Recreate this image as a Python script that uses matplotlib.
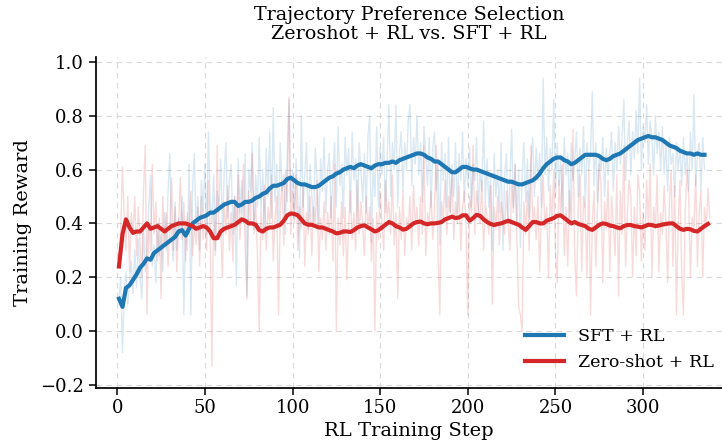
import numpy as np
import matplotlib
matplotlib.use("Agg")
import matplotlib.pyplot as plt

plt.rcParams['font.family'] = ['DejaVu Serif']

title = "Trajectory Preference Selection\nZeroshot + RL vs. SFT + RL"
xlabel = "RL Training Step"
ylabel = "Training Reward"
label_sft = "SFT + RL"
label_zs = "Zero-shot + RL"

# Raw per-step rewards (faint lines), SFT + RL, steps 1..335
sft_raw = [
    0.12, 0.20, -0.08, 0.15, 0.22, 0.10, 0.18, 0.26, 0.14, 0.30,
    0.16, 0.34, 0.20, 0.12, 0.38, 0.22, 0.30, 0.46, 0.58, 0.24,
    0.32, 0.18, 0.40, 0.28, 0.36, 0.22, 0.44, 0.30, 0.52, 0.66,
    0.34, 0.26, 0.48, 0.30, 0.42, 0.36, 0.50, 0.06, 0.40, 0.30,
    0.62, 0.06, 0.54, 0.66, 0.38, 0.50, 0.30, 0.56, 0.44, 0.62,
    0.36, 0.74, 0.48, 0.40, 0.58, 0.30, 0.52, 0.44, 0.64, 0.38,
    0.58, 0.70, 0.42, 0.56, 0.62, 0.36, 0.50, 0.17, 0.64, 0.44,
    0.56, 0.40, 0.66, 0.13, 0.60, 0.52, 0.70, 0.38, 0.58, 0.46,
    0.72, 0.44, 0.60, 0.36, 0.68, 0.50, 0.74, 0.42, 0.83, 0.48,
    0.62, 0.40, 0.70, 0.52, 0.58, 0.36, 0.66, 0.86, 0.48, 0.60,
    0.42, 0.64, 0.50, 0.27, 0.80, 0.46, 0.58, 0.70, 0.38, 0.62,
    0.50, 0.40, 0.68, 0.56, 0.38, 0.64, 0.52, 0.72, 0.44, 0.60,
    0.66, 0.42, 0.58, 0.70, 0.46, 0.76, 0.54, 0.62, 0.42, 0.72,
    0.58, 0.68, 0.44, 0.74, 0.56, 0.64, 0.40, 0.70, 0.60, 0.48,
    0.66, 0.44, 0.72, 0.80, 0.33, 0.62, 0.50, 0.76, 0.46, 0.68,
    0.58, 0.72, 0.44, 0.64, 0.84, 0.50, 0.70, 0.60, 0.84, 0.46,
    0.66, 0.74, 0.52, 0.70, 0.60, 0.78, 0.84, 0.54, 0.72, 0.62,
    0.80, 0.58, 0.70, 0.48, 0.76, 0.66, 0.54, 0.72, 0.46, 0.68,
    0.74, 0.52, 0.64, 0.32, 0.70, 0.56, 0.66, 0.46, 0.72, 0.44,
    0.62, 0.50, 0.70, 0.44, 0.66, 0.56, 0.74, 0.48, 0.64, 0.54,
    0.68, 0.46, 0.62, 0.56, 0.72, 0.42, 0.60, 0.52, 0.78, 0.48,
    0.64, 0.46, 0.58, 0.30, 0.66, 0.50, 0.60, 0.44, 0.70, 0.30,
    0.58, 0.66, 0.42, 0.56, 0.75, 0.46, 0.62, 0.40, 0.60, 0.31,
    0.58, 0.70, 0.48, 0.64, 0.42, 0.62, 0.72, 0.50, 0.68, 0.56,
    0.66, 0.46, 0.94, 0.58, 0.72, 0.52, 0.68, 0.60, 0.86, 0.50,
    0.70, 0.54, 0.64, 0.44, 0.72, 0.58, 0.66, 0.42, 0.70, 0.56,
    0.64, 0.74, 0.50, 0.68, 0.58, 0.76, 0.46, 0.70, 0.60, 0.66,
    0.89, 0.54, 0.70, 0.48, 0.66, 0.60, 0.72, 0.50, 0.68, 0.58,
    0.66, 0.74, 0.52, 0.70, 0.60, 0.76, 0.62, 0.72, 0.86, 0.56,
    0.70, 0.78, 0.58, 0.74, 0.64, 0.82, 0.66, 0.94, 0.60, 0.76,
    0.70, 0.84, 0.62, 0.78, 0.72, 0.58, 0.80, 0.66, 0.74, 0.60,
    0.76, 0.58, 0.70, 0.52, 0.72, 0.62, 0.66, 0.50, 0.70, 0.60,
    0.68, 0.54, 0.72, 0.58, 0.66, 0.52, 0.74, 0.60, 0.88, 0.54,
    0.66, 0.70, 0.52, 0.72, 0.60,
]

# Raw per-step rewards, Zero-shot + RL, steps 1..338
zs_raw = [
    0.24, 0.38, 0.61, 0.42, 0.30, 0.50, 0.22, 0.44, 0.36, 0.50,
    0.28, 0.46, 0.34, 0.20, 0.52, 0.69, 0.06, 0.40, 0.30, 0.62,
    0.36, 0.48, 0.26, 0.42, 0.12, 0.50, 0.32, 0.44, 0.24, 0.38,
    0.57, 0.30, 0.46, 0.22, 0.40, 0.57, 0.34, 0.48, 0.26, 0.44,
    0.36, 0.52, 0.28, 0.40, 0.32, 0.46, 0.24, 0.50, 0.34, 0.42,
    0.30, 0.56, 0.38, -0.13, 0.44, 0.28, 0.69, 0.34, 0.40, 0.20,
    0.48, 0.36, 0.54, 0.30, 0.44, 0.26, 0.50, 0.38, 0.58, 0.34,
    0.46, 0.62, 0.30, 0.12, 0.52, 0.40, 0.66, 0.36, 0.48, 0.28,
    0.00, 0.44, 0.34, 0.54, 0.30, 0.46, 0.40, 0.58, 0.26, 0.42,
    0.50, 0.06, 0.44, 0.56, 0.32, 0.60, 0.48, 0.87, 0.36, 0.52,
    0.40, 0.58, 0.30, 0.46, 0.38, 0.54, 0.24, 0.44, 0.36, 0.50,
    0.28, 0.46, 0.40, 0.56, 0.22, 0.42, 0.34, 0.48, 0.30, 0.44,
    0.36, 0.50, 0.26, 0.62, 0.00, 0.42, 0.32, 0.48, 0.28, 0.46,
    0.19, 0.40, 0.52, 0.34, 0.44, 0.30, 0.56, 0.36, 0.48, 0.40,
    0.28, 0.50, 0.38, 0.46, 0.26, 0.42, 0.00, 0.44, 0.34, 0.52,
    0.40, 0.30, 0.56, 0.42, 0.48, 0.36, 0.58, 0.32, 0.44, 0.12,
    0.46, 0.34, 0.52, 0.28, 0.42, 0.38, 0.50, 0.30, 0.54, 0.40,
    0.46, 0.32, 0.50, 0.36, 0.69, 0.28, 0.44, 0.40, 0.52, 0.34,
    0.46, 0.69, 0.30, 0.06, 0.48, 0.42, 0.56, 0.36, 0.50, 0.44,
    0.58, 0.34, 0.48, 0.40, 0.54, 0.30, 0.46, 0.52, 0.38, 0.06,
    0.50, 0.44, 0.69, 0.36, 0.52, 0.46, 0.40, 0.56, 0.30, 0.48,
    0.42, 0.36, 0.54, 0.10, 0.46, 0.38, 0.50, 0.32, 0.48, 0.42,
    0.36, 0.52, 0.40, 0.30, 0.56, 0.44, 0.62, 0.34, 0.09, 0.06,
    0.00, 0.48, 0.36, 0.52, 0.30, 0.69, 0.40, 0.46, 0.34, 0.50,
    0.22, 0.44, 0.58, 0.38, 0.46, 0.20, 0.54, 0.40, 0.60, 0.30,
    0.18, 0.56, 0.44, 0.62, 0.28, 0.46, 0.24, 0.52, 0.40, 0.75,
    0.28, 0.13, 0.46, 0.58, 0.22, 0.50, 0.44, 0.20, 0.60, 0.06,
    0.40, 0.52, 0.24, 0.46, 0.62, 0.54, 0.18, 0.48, 0.38, 0.56,
    0.22, 0.50, 0.40, 0.28, 0.58, 0.13, 0.52, 0.36, 0.69, 0.24,
    0.44, 0.56, 0.50, 0.20, 0.46, 0.28, 0.58, 0.52, 0.26, 0.44,
    0.30, 0.56, 0.40, 0.62, 0.20, 0.46, 0.38, 0.58, 0.22, 0.44,
    0.36, 0.54, 0.40, 0.18, 0.48, 0.60, 0.24, 0.54, 0.06, 0.40,
    0.56, 0.22, 0.06, 0.44, 0.60, 0.50, 0.20, 0.42, 0.38, 0.58,
    0.24, 0.44, 0.52, 0.20, 0.46, 0.38, 0.53, 0.42,
]

# Smoothed curves (thick lines), read every 2 steps
sft_smooth_steps = list(range(1, 336, 2))
sft_smooth = [
    0.12, 0.09, 0.16, 0.17, 0.19, 0.21, 0.235, 0.25, 0.27, 0.265,
    0.29, 0.30, 0.31, 0.32, 0.33, 0.34, 0.35, 0.37, 0.375, 0.355,
    0.38, 0.40, 0.41, 0.42, 0.425, 0.43, 0.44, 0.44, 0.45, 0.46,
    0.47, 0.475, 0.48, 0.48, 0.465, 0.47, 0.48, 0.48, 0.485, 0.495,
    0.50, 0.51, 0.515, 0.53, 0.54, 0.54, 0.545, 0.55, 0.565, 0.57,
    0.56, 0.55, 0.545, 0.545, 0.54, 0.535, 0.535, 0.54, 0.55, 0.56,
    0.57, 0.575, 0.585, 0.59, 0.60, 0.605, 0.61, 0.605, 0.615, 0.62,
    0.615, 0.61, 0.605, 0.615, 0.62, 0.62, 0.625, 0.625, 0.63, 0.625,
    0.635, 0.64, 0.645, 0.65, 0.655, 0.66, 0.66, 0.655, 0.645, 0.64,
    0.63, 0.63, 0.62, 0.61, 0.60, 0.59, 0.59, 0.60, 0.61, 0.61,
    0.605, 0.60, 0.60, 0.595, 0.59, 0.585, 0.58, 0.575, 0.57, 0.565,
    0.56, 0.555, 0.555, 0.55, 0.545, 0.545, 0.55, 0.555, 0.56, 0.57,
    0.585, 0.605, 0.62, 0.63, 0.64, 0.645, 0.645, 0.635, 0.63, 0.62,
    0.625, 0.635, 0.645, 0.655, 0.655, 0.655, 0.655, 0.65, 0.64, 0.635,
    0.64, 0.65, 0.655, 0.66, 0.67, 0.68, 0.69, 0.70, 0.71, 0.715,
    0.72, 0.725, 0.72, 0.72, 0.715, 0.71, 0.70, 0.69, 0.685, 0.68,
    0.67, 0.665, 0.66, 0.66, 0.655, 0.66, 0.655, 0.655,
]

zs_smooth_steps = list(range(1, 338, 2))
zs_smooth = [
    0.24, 0.36, 0.415, 0.385, 0.365, 0.37, 0.37, 0.385, 0.40, 0.38,
    0.385, 0.39, 0.38, 0.37, 0.38, 0.39, 0.395, 0.40, 0.40, 0.40,
    0.395, 0.39, 0.38, 0.385, 0.39, 0.385, 0.37, 0.345, 0.345, 0.37,
    0.38, 0.385, 0.39, 0.395, 0.405, 0.415, 0.41, 0.40, 0.40, 0.395,
    0.375, 0.37, 0.38, 0.385, 0.385, 0.39, 0.395, 0.41, 0.43, 0.437,
    0.435, 0.43, 0.415, 0.40, 0.395, 0.395, 0.39, 0.385, 0.385, 0.38,
    0.375, 0.37, 0.363, 0.365, 0.37, 0.37, 0.368, 0.375, 0.385, 0.39,
    0.393, 0.385, 0.378, 0.37, 0.375, 0.385, 0.395, 0.405, 0.40, 0.39,
    0.385, 0.377, 0.38, 0.39, 0.40, 0.405, 0.407, 0.40, 0.397, 0.40,
    0.40, 0.402, 0.405, 0.415, 0.42, 0.425, 0.42, 0.422, 0.43, 0.43,
    0.41, 0.42, 0.432, 0.428, 0.415, 0.405, 0.398, 0.394, 0.398, 0.40,
    0.405, 0.41, 0.405, 0.40, 0.395, 0.385, 0.376, 0.39, 0.405, 0.405,
    0.40, 0.40, 0.41, 0.415, 0.42, 0.428, 0.43, 0.42, 0.41, 0.40,
    0.405, 0.398, 0.394, 0.39, 0.38, 0.376, 0.385, 0.395, 0.40, 0.398,
    0.392, 0.39, 0.385, 0.382, 0.39, 0.394, 0.394, 0.39, 0.388, 0.385,
    0.39, 0.395, 0.394, 0.39, 0.392, 0.396, 0.398, 0.40, 0.40, 0.39,
    0.38, 0.376, 0.38, 0.378, 0.372, 0.37, 0.38, 0.39, 0.398,
]

c_sft = "#1f77b4"
c_zs = "#d62728"

fig = plt.figure(figsize=(7.22, 4.46), dpi=100)
ax = fig.add_axes([0.1325, 0.131, 0.8675, 0.741])

sft_steps = np.arange(1, len(sft_raw) + 1)
zs_steps = np.arange(1, len(zs_raw) + 1)

ax.plot(sft_steps, sft_raw, color=c_sft, alpha=0.17, lw=1.0)
ax.plot(zs_steps, zs_raw, color=c_zs, alpha=0.17, lw=1.0)
ax.plot(sft_smooth_steps, sft_smooth, color=c_sft, lw=3.0, label=label_sft)
ax.plot(zs_smooth_steps, zs_smooth, color=c_zs, lw=3.0, label=label_zs)

ax.set_xlim(-12.3, 345)
ax.set_ylim(-0.21, 1.018)
ax.set_xticks([0, 50, 100, 150, 200, 250, 300])
ax.set_yticks([-0.2, 0.0, 0.2, 0.4, 0.6, 0.8, 1.0])

ax.grid(True, linestyle=(0, (5, 4)), color="#d9d9d9", lw=0.8)
ax.set_axisbelow(True)
for s in ["top", "right"]:
    ax.spines[s].set_visible(False)
for s in ["left", "bottom"]:
    ax.spines[s].set_linewidth(1.25)
ax.tick_params(axis="both", labelsize=13, width=1.1, length=5)

ax.set_xlabel(xlabel, fontsize=14, labelpad=3)
ax.set_ylabel(ylabel, fontsize=14, labelpad=6)
ax.set_title(title, fontsize=13.8, pad=13, linespacing=1.1)

ax.legend(loc="lower right", frameon=False, fontsize=12.6, handlelength=2.2,
          borderaxespad=0.3, bbox_to_anchor=(1.006, 0.014))

fig.savefig("out.png", dpi=100)
